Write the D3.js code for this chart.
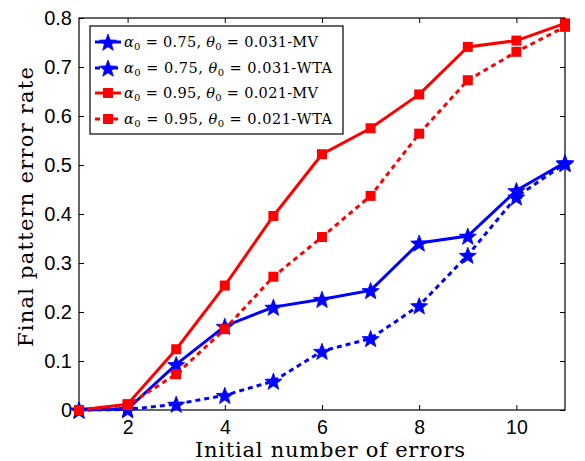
<!DOCTYPE html>
<html><head><meta charset="utf-8">
<script src="https://cdn.jsdelivr.net/npm/d3@7"></script>
<style>body{margin:0;background:#fff}svg{display:block}</style>
</head><body>
<svg id="c" width="585" height="461"></svg>
<script>
const xValues = [1,2,3,4,5,6,7,8,9,10,11];
const blueMV  = [0,0.002,0.093,0.171,0.210,0.226,0.244,0.341,0.355,0.448,0.505];
const blueWTA = [0,0.001,0.012,0.030,0.059,0.120,0.146,0.213,0.316,0.435,0.503];
const redMV   = [0,0.012,0.124,0.254,0.396,0.522,0.575,0.644,0.741,0.754,0.789];
const redWTA  = [0,0.010,0.073,0.165,0.272,0.353,0.437,0.564,0.673,0.731,0.782];
const xTicks = [2,4,6,8,10];
const yTicks = [0,0.1,0.2,0.3,0.4,0.5,0.6,0.7,0.8];
const yTickLabels = ["0","0.1","0.2","0.3","0.4","0.5","0.6","0.7","0.8"];
const seriesNames = [
  {a:"0.75", t:"0.031", m:"MV"},
  {a:"0.75", t:"0.031", m:"WTA"},
  {a:"0.95", t:"0.021", m:"MV"},
  {a:"0.95", t:"0.021", m:"WTA"}
];
const xLabel = "Initial number of errors";
const yLabel = "Final pattern error rate";

const series = [
  {vals: blueMV,  color:"#0000ff", dash:null,  marker:"star"},
  {vals: blueWTA, color:"#0000ff", dash:"5,4", marker:"star"},
  {vals: redMV,   color:"#ff0000", dash:null,  marker:"square"},
  {vals: redWTA,  color:"#ff0000", dash:"5,4", marker:"square"}
];

const L=79, R=565, T=18, B=410;
const x = d3.scaleLinear().domain([1,11]).range([L,R]);
const y = d3.scaleLinear().domain([0,0.8]).range([B,T]);
const svg = d3.select("#c");

const tickFont = "'Liberation Sans', Arial, sans-serif";
const serif = "'DejaVu Serif', serif";

// axes
const gx = svg.append("g").attr("transform",`translate(0,${B})`)
  .call(d3.axisBottom(x).tickValues(xTicks).tickSizeInner(-5).tickSizeOuter(0).tickPadding(10));
const gxt = svg.append("g").attr("transform",`translate(0,${T})`)
  .call(d3.axisTop(x).tickValues(xTicks).tickSizeInner(-5).tickSizeOuter(0).tickFormat(""));
const gy = svg.append("g").attr("transform",`translate(${L},0)`)
  .call(d3.axisLeft(y).tickValues(yTicks).tickSizeInner(-5).tickSizeOuter(0).tickPadding(7)
    .tickFormat((d,i)=>yTickLabels[i]));
const gyr = svg.append("g").attr("transform",`translate(${R},0)`)
  .call(d3.axisRight(y).tickValues(yTicks).tickSizeInner(-5).tickSizeOuter(0).tickFormat(""));
[gx,gxt,gy,gyr].forEach(g=>{
  g.select(".domain").remove();
  g.selectAll(".tick line").attr("stroke","#000").attr("stroke-width",1);
  g.selectAll("text").attr("font-family",tickFont).attr("font-size",20).attr("fill","#000");
});
gx.selectAll("text").attr("font-size",19.5);
svg.append("rect").attr("x",L).attr("y",T).attr("width",R-L).attr("height",B-T)
  .attr("fill","none").attr("stroke","#000").attr("stroke-width",1.2);

function starPath(cx,cy,r){
  const ri=r*0.42; let p="";
  for(let i=0;i<10;i++){
    const ang=-Math.PI/2+i*Math.PI/5;
    const rr=i%2?ri:r;
    p+=(i?"L":"M")+(cx+rr*Math.cos(ang))+","+(cy+rr*Math.sin(ang));
  }
  return p+"Z";
}
function drawMarker(g,type,cx,cy,color){
  if(type==="star"){
    g.append("path").attr("d",starPath(cx,cy+1,9)).attr("fill",color).attr("stroke",color).attr("stroke-width",0.8);
  } else {
    g.append("rect").attr("x",cx-5).attr("y",cy-5).attr("width",10).attr("height",10).attr("fill",color);
  }
}

const line = d3.line().x((d,i)=>x(xValues[i])).y(d=>y(d));
const plot = svg.append("g");
series.forEach(s=>{
  plot.append("path").datum(s.vals).attr("d",line).attr("fill","none")
    .attr("stroke",s.color).attr("stroke-width",3).attr("stroke-dasharray",s.dash);
});
series.forEach(s=>{
  s.vals.forEach((v,i)=>drawMarker(plot,s.marker,x(xValues[i]),y(v),s.color));
});

// legend
const lg = svg.append("g");
lg.append("rect").attr("x",90).attr("y",26).attr("width",253).attr("height",108)
  .attr("fill","#fff").attr("stroke","#000").attr("stroke-width",1.2);
const rowY=[42,68,93,119];
series.forEach((s,i)=>{
  const yy=rowY[i];
  lg.append("line").attr("x1",95).attr("x2",121).attr("y1",yy).attr("y2",yy)
    .attr("stroke",s.color).attr("stroke-width",3).attr("stroke-dasharray",s.dash);
  drawMarker(lg,s.marker,108,yy,s.color);
  const n=seriesNames[i];
  const t=lg.append("text").attr("x",124).attr("y",yy+5).attr("font-family",serif)
    .attr("font-size",14.5).attr("fill","#000")
    .attr("textLength", n.m==="MV"?194:208).attr("lengthAdjust","spacing");
  t.append("tspan").attr("font-style","italic").text("α");
  t.append("tspan").attr("font-size",10).attr("dy",3).text("0");
  t.append("tspan").attr("dy",-3).text(" = "+n.a+", ");
  t.append("tspan").attr("font-style","italic").text("θ");
  t.append("tspan").attr("font-size",10).attr("dy",3).text("0");
  t.append("tspan").attr("dy",-3).text(" = "+n.t+"-"+n.m);
});

// axis labels
svg.append("text").attr("x",195).attr("y",457)
  .attr("font-family",serif).attr("font-size",21).attr("fill","#000")
  .attr("textLength",270).attr("lengthAdjust","spacing").text(xLabel);
svg.append("text").attr("transform","translate(33,347) rotate(-90)")
  .attr("font-family",serif).attr("font-size",21).attr("fill","#000")
  .attr("textLength",280).attr("lengthAdjust","spacing").text(yLabel);
</script>
</body></html>
